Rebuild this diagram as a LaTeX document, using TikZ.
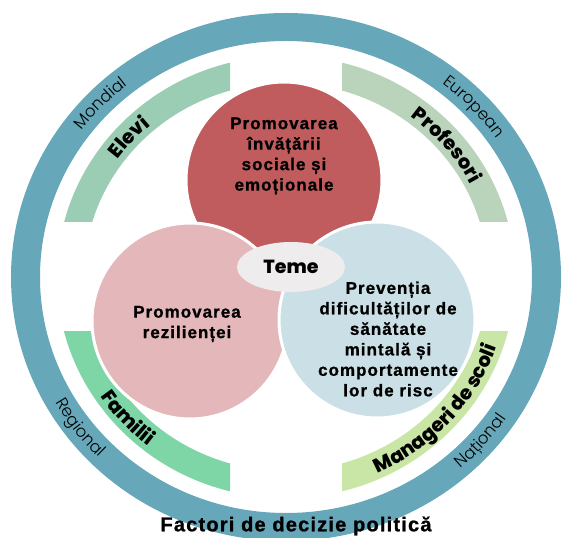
\documentclass[tikz,border=0pt]{standalone}
\usepackage{fontspec}
\setmainfont{Liberation Sans}
\newfontfamily\geo{Poppins ExtraBold}
\newfontfamily\geolight{Poppins Light}
\newfontfamily\spaced[LetterSpace=6, BoldFeatures={FakeBold=1}]{Liberation Sans}
\usetikzlibrary{shapes.geometric, decorations.text}
\definecolor{inel}{HTML}{66A8BA}
\definecolor{elevi}{HTML}{9BCDB5}
\definecolor{prof}{HTML}{BAD3BB}
\definecolor{fam}{HTML}{7ED6A7}
\definecolor{man}{HTML}{C9E6A7}
\definecolor{rosu}{HTML}{C05C5D}
\definecolor{roz}{HTML}{E4B8BA}
\definecolor{albastru}{HTML}{CBE0E6}
\definecolor{gri}{HTML}{EEECEC}

\begin{document}
\begin{tikzpicture}[x=1pt, y=1pt,
			cerc/.style={circle, draw=white, line width=3pt, inner sep=0pt, minimum size=196pt},
			tema/.style={align=center, font=\spaced\bfseries\fontsize{17}{20.5}\selectfont},
			pearc/.style={decorate, decoration={text along path, text align=center, text={#1}}}]
			
			\useasboundingbox (0,0) rectangle (563,538);
			\coordinate (C) at (286,261);
			
			% Inelul exterior
			\fill[inel, even odd rule] (C) ellipse[x radius=275pt, y radius=264pt]
				(C) ellipse[x radius=246pt, y radius=236pt];
			
			% Benzile din interior, cate una pe cadran
			\foreach \sx/\sy/\col in {-1/1/elevi, 1/1/prof, -1/-1/fam, 1/-1/man} {
				\begin{scope}
					\clip[shift={(C)}] (\sx*56,\sy*55) rectangle (\sx*300,\sy*300);
					\fill[\col, even odd rule] (C) ellipse[x radius=229pt, y radius=221pt]
						(C) ellipse[x radius=202pt, y radius=194pt];
				\end{scope}
			}
			
			% Nivelurile, pe inel
			\path[pearc={|\geolight\fontsize{16.5}{16.5}\selectfont|Mondial}]
				([shift={(165:255pt and 245pt)}]C) arc[start angle=165, end angle=107, x radius=255pt, y radius=245pt];
			\path[pearc={|\geolight\fontsize{16.5}{16.5}\selectfont|European}]
				([shift={(73:255pt and 245pt)}]C) arc[start angle=73, end angle=13, x radius=255pt, y radius=245pt];
			\path[pearc={|\geolight\fontsize{16.5}{16.5}\selectfont|Regional}]
				([shift={(187:265pt and 255pt)}]C) arc[start angle=187, end angle=247, x radius=265pt, y radius=255pt];
			\path[pearc={|\geolight\fontsize{16.5}{16.5}\selectfont|Național}]
				([shift={(-71:265pt and 255pt)}]C) arc[start angle=-71, end angle=-11, x radius=265pt, y radius=255pt];
			
			% Actorii, pe benzi
			\path[pearc={|\geo\fontsize{19.5}{19.5}\selectfont|Elevi}]
				([shift={(165:208pt and 200pt)}]C) arc[start angle=165, end angle=110, x radius=208pt, y radius=200pt];
			\path[pearc={|\geo\fontsize{19.5}{19.5}\selectfont|Profesori}]
				([shift={(75:208pt and 200pt)}]C) arc[start angle=75, end angle=5, x radius=208pt, y radius=200pt];
			\path[pearc={|\geo\fontsize{19.5}{19.5}\selectfont|Familii}]
				([shift={(190:223pt and 215pt)}]C) arc[start angle=190, end angle=255, x radius=223pt, y radius=215pt];
			\path[pearc={|\geo\fontsize{19.5}{19.5}\selectfont|Manageri de scoli}]
				([shift={(-88:223pt and 215pt)}]C) arc[start angle=-88, end angle=4, x radius=223pt, y radius=215pt];
			
			% Cele trei teme
			\node[cerc, fill=rosu] (sel) at (284,358) {};
			\node[cerc, fill=roz] (rez) at (190,217) {};
			\node[cerc, fill=albastru] (prev) at (377,218) {};
			\node[ellipse, fill=gri, minimum width=108pt, minimum height=50pt,
				font=\geo\fontsize{19}{19}\selectfont] (teme) at (291,271) {Teme};
			
			\node[tema] (tsel) at (284,382) {Promovarea\\învățării\\sociale și\\emoționale};
			\node[tema] (trez) at (187,214) {Promovarea\\rezilienței};
			\node[tema] (tprev) at (388,199) {Prevenția\\dificultăților de\\sănătate\\mintală și\\comportamente\\lor de risc};
			
			\node[font=\spaced\bfseries\fontsize{20}{20}\selectfont] (factori) at (296,12) {Factori de decizie politică};
			
		\end{tikzpicture}
\end{document}
